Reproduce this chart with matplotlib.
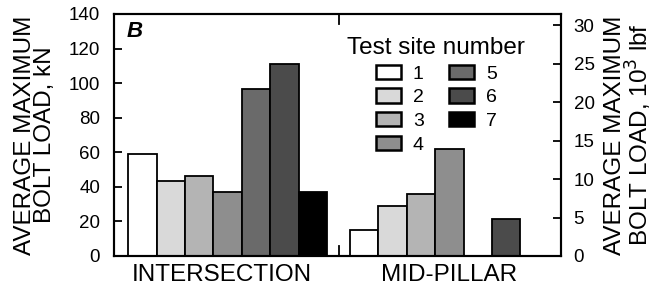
import matplotlib.pyplot as plt
import numpy as np

plt.rcParams['font.family'] = ['Liberation Sans', 'DejaVu Sans']

# data (kN)
sites = ['1', '2', '3', '4', '5', '6', '7']
intersection = [59, 43.5, 46, 37, 96.5, 111, 37]
mid_pillar = [15, 29, 36, 62, np.nan, 21.5, np.nan]
colors = ['#ffffff', '#d9d9d9', '#b4b4b4', '#8e8e8e', '#6a6a6a', '#4b4b4b', '#000000']
groups = ['INTERSECTION', 'MID-PILLAR']
kn_to_klbf = 0.224809

fig = plt.figure(figsize=(6.71, 2.91), dpi=100)
ax = fig.add_axes([0.1699, 0.1203, 0.6662, 0.8316])

x1 = np.arange(1, 8)
x2 = x1 + 7.81
for i in range(7):
    ax.bar(x1[i], intersection[i], width=1.0, color=colors[i], edgecolor='black',
           linewidth=1.3, label=sites[i])
    if not np.isnan(mid_pillar[i]):
        ax.bar(x2[i], mid_pillar[i], width=1.0, color=colors[i], edgecolor='black',
               linewidth=1.3)

ax.set_xlim(0, 15.74)
ax.set_ylim(0, 140)
ax.set_yticks(range(0, 141, 20))
ax.set_xticks([])
ax.tick_params(axis='y', direction='in', length=6, width=1.3, labelsize=13.5, pad=10)

# small divider ticks at top and bottom
ax.plot([7.92, 7.92], [0, 6], color='black', lw=1.3, clip_on=False)
ax.plot([7.92, 7.92], [134, 140], color='black', lw=1.3, clip_on=False)

for s in ax.spines.values():
    s.set_linewidth(1.5)

ax.text(3.8, -4.5, groups[0], ha='center', va='top', fontsize=17.5)
ax.text(11.8, -4.5, groups[1], ha='center', va='top', fontsize=17.5)
ax.text(0.45, 136, 'B', fontsize=16, fontweight='bold', fontstyle='italic',
        ha='left', va='top')

ax.set_ylabel('AVERAGE MAXIMUM\nBOLT LOAD, kN', fontsize=17.5, linespacing=0.9, labelpad=9)

ax2 = ax.twinx()
ax2.set_ylim(0, 140 * kn_to_klbf)
ax2.set_yticks(range(0, 31, 5))
ax2.tick_params(axis='y', direction='in', length=6, width=1.3, labelsize=13.5, pad=9)
ax2.set_ylabel('AVERAGE MAXIMUM\nBOLT LOAD, 10$^3$ lbf', fontsize=17.5, rotation=90,
               linespacing=0.9, labelpad=7)
for s in ax2.spines.values():
    s.set_linewidth(1.5)

leg = ax.legend(ncol=2, title='Test site number', loc='upper right',
                bbox_to_anchor=(0.955, 0.97), frameon=False, fontsize=14,
                title_fontsize=17.5, handlelength=1.3, handleheight=0.75,
                labelspacing=0.3, columnspacing=1.3, handletextpad=0.6,
                borderpad=0.3)
for h in leg.legend_handles:
    h.set_linewidth(1.8)

fig.savefig('out.png', dpi=100)
